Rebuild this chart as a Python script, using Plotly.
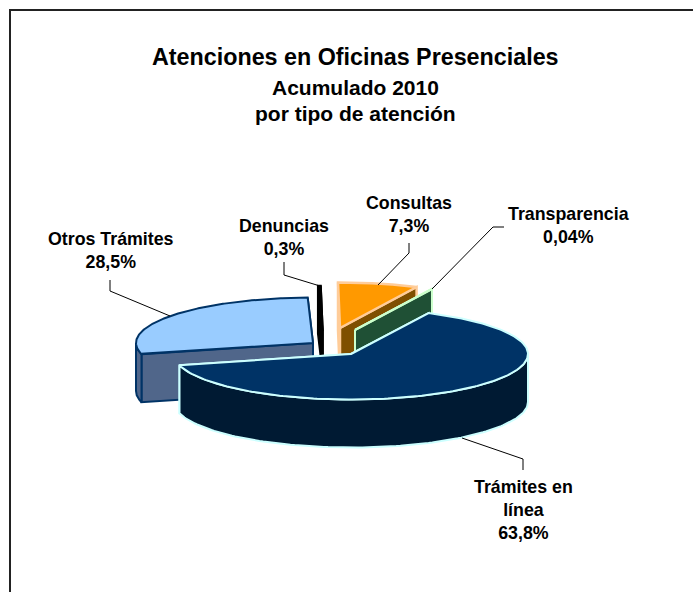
import numpy as np
import plotly.graph_objects as go

# values
labels = ["Trámites en<br>línea", "Otros Trámites", "Denuncias", "Consultas", "Transparencia"]
shares = [63.8, 28.5, 0.3, 7.3, 0.04]
share_text = ["63,8%", "28,5%", "0,3%", "7,3%", "0,04%"]

# styling, same order as the slices
top_colors = ["#003366", "#99CCFF", "#000000", "#FF9900", "#1F5035"]
side_colors = ["#001A33", "#50668A", "#000000", "#7F4F00", "#1F5035"]
edge_colors = ["#CCFFFF", "#003366", "#000000", "#FFCC99", "#CCFFCC"]
edge_widths = [2, 2, 1.5, 2.5, 2]

# exploded pie geometry, in page pixels
RX, RY, DEPTH = 177, 45.5, 48
START_ANGLE = 26
centers = [(351, 354), (313, 343), (323, 331), (340, 328), (355, 330)]
draw_order = [3, 2, 4, 1, 0]

label_pos = [(523, 510), (111, 250), (284, 237), (409, 214), (568, 225)]
leaders = [
    [(462, 438), (523, 459), (523, 470)],
    [(110, 280), (110, 291), (170, 316)],
    [(284, 262), (284, 275), (320, 286)],
    [(409, 243), (409, 253), (378, 285)],
    [(504, 227), (493, 227), (432, 289)],
]


def rim(cx, cy, deg):
    t = np.radians(deg)
    return cx + RX * np.sin(t), cy - RY * np.cos(t)


def poly(fig, xs, ys, fill, edge, width):
    fig.add_trace(go.Scatter(
        x=xs, y=ys, mode="lines", fill="toself", fillcolor=fill,
        line=dict(color=edge, width=width), hoverinfo="skip", showlegend=False,
    ))


def add_slice(fig, i, a0, a1):
    cx, cy = centers[i]
    fill, side, edge, w = top_colors[i], side_colors[i], edge_colors[i], edge_widths[i]

    # cut faces, the one nearest the viewer goes last
    for a in sorted([a0, a1], key=lambda d: -np.cos(np.radians(d))):
        rx, ry = rim(cx, cy, a)
        poly(fig, [cx, rx, rx, cx, cx], [cy, ry, ry + DEPTH, cy + DEPTH, cy], side, edge, w)

    # outer wall, only the front half of the rim shows
    w0, w1 = max(a0, 90), min(a1, 270)
    if w1 > w0:
        deg = np.linspace(w0, w1, 120)
        xs, ys = rim(cx, cy, deg)
        poly(fig, np.r_[xs, xs[::-1], xs[0]], np.r_[ys, ys[::-1] + DEPTH, ys[0]], side, edge, w)

    # top face
    deg = np.linspace(a0, a1, 200)
    xs, ys = rim(cx, cy, deg)
    poly(fig, np.r_[cx, xs, cx], np.r_[cy, ys, cy], fill, edge, w)


fig = go.Figure()

ends = START_ANGLE + np.cumsum(shares) * 3.6
starts = np.r_[START_ANGLE, ends[:-1]]
for i in draw_order:
    add_slice(fig, i, starts[i], ends[i])

for pts in leaders:
    fig.add_trace(go.Scatter(
        x=[p[0] for p in pts], y=[p[1] for p in pts], mode="lines",
        line=dict(color="#000000", width=1), hoverinfo="skip", showlegend=False,
    ))

for i, (lx, ly) in enumerate(label_pos):
    fig.add_annotation(
        x=lx, y=ly, xref="x", yref="y", showarrow=False, align="center",
        text=f"{labels[i]}<br>{share_text[i]}",
        font=dict(family="Liberation Sans", size=17.8, color="#000000", weight="bold"),
    )

titles = [("Atenciones en Oficinas Presenciales", 57, 23.3),
          ("Acumulado 2010", 87, 21),
          ("por tipo de atención", 113, 21)]
for text, ty, size in titles:
    fig.add_annotation(
        x=355, y=ty, xref="x", yref="y", showarrow=False, text=text,
        font=dict(family="Liberation Sans", size=size, color="#000000", weight="bold"),
    )

fig.update_layout(
    width=693, height=592, autosize=False,
    margin=dict(l=0, r=0, t=0, b=0),
    paper_bgcolor="#FFFFFF", plot_bgcolor="#FFFFFF",
    showlegend=False,
    xaxis=dict(range=[0, 693], visible=False, fixedrange=True),
    yaxis=dict(range=[592, 0], visible=False, fixedrange=True),
    shapes=[dict(type="rect", xref="x", yref="y", x0=10, y0=10, x1=710, y1=610,
                 line=dict(color="#222222", width=2))],
)

fig.write_html("out.html", post_script="document.body.style.margin='0';",
               config=dict(displayModeBar=False))
